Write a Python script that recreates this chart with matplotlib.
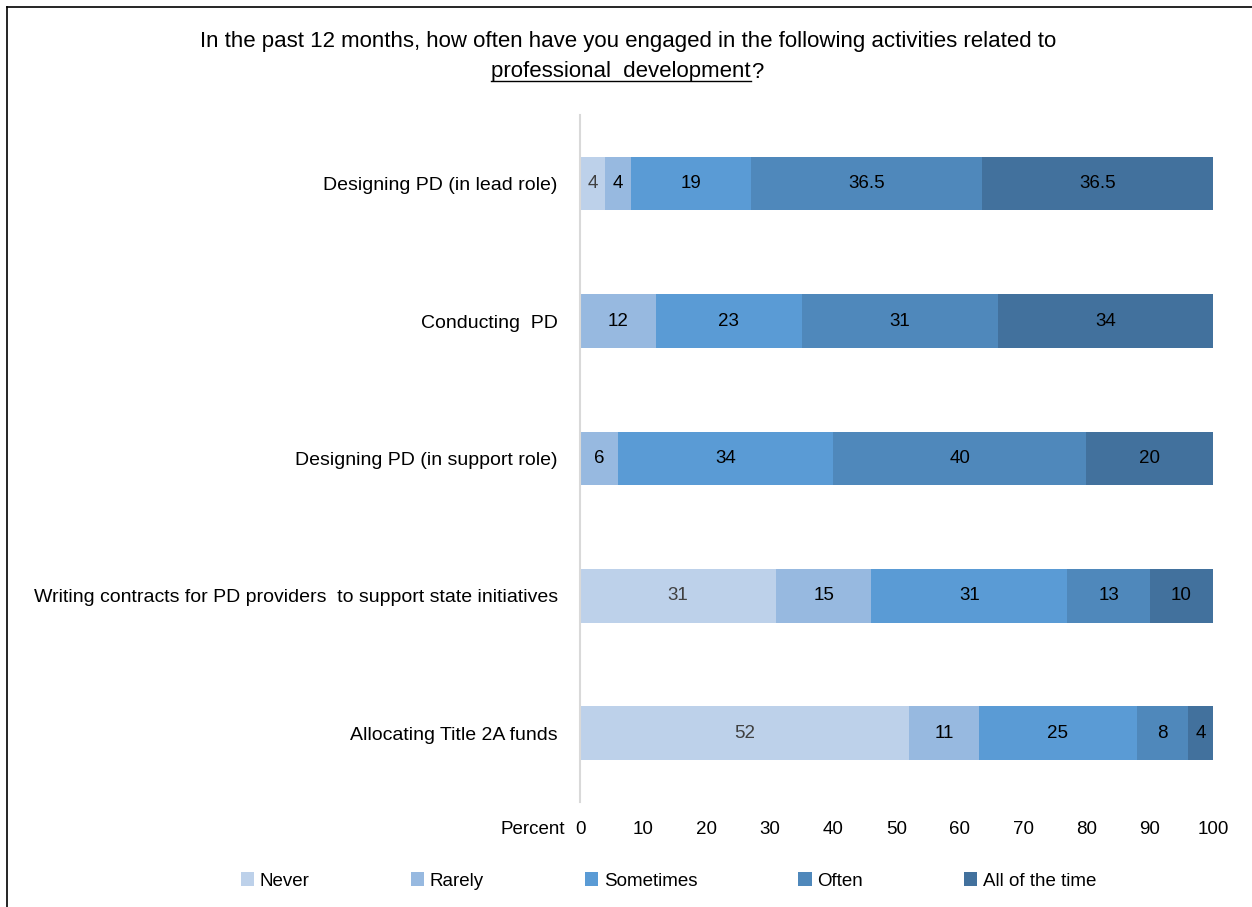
import matplotlib.pyplot as plt
import numpy as np
from matplotlib.lines import Line2D

plt.rcParams['font.family'] = ['Liberation Sans', 'DejaVu Sans']

activities = ['Designing PD (in lead role)', 'Conducting  PD', 'Designing PD (in support role)',
              'Writing contracts for PD providers  to support state initiatives', 'Allocating Title 2A funds']
levels = ['Never', 'Rarely', 'Sometimes', 'Often', 'All of the time']
never = [4, 0, 0, 31, 52]
rarely = [4, 12, 6, 15, 11]
sometimes = [19, 23, 34, 31, 25]
often = [36.5, 31, 40, 13, 8]
all_time = [36.5, 34, 20, 10, 4]
series = [never, rarely, sometimes, often, all_time]

colors = ['#BDD1EA', '#97B9E0', '#5A9BD5', '#4F88BB', '#42719D']
text_colors = ['#404040', 'black', 'black', 'black', 'black']

fig = plt.figure(figsize=(12.52, 9.07), dpi=100)
ax = fig.add_axes([0.4633, 0.1158, 0.5056, 0.7574])

y = np.arange(len(activities))
left = np.zeros(len(activities))
for vals, lab, c, tc in zip(series, levels, colors, text_colors):
    vals = np.array(vals, dtype=float)
    bars = ax.barh(y, vals, left=left, height=0.39, color=c, label=lab, edgecolor='none')
    for b, v in zip(bars, vals):
        if v > 0:
            ax.text(b.get_x() + b.get_width() / 2, b.get_y() + b.get_height() / 2,
                    f'{v:g}', ha='center', va='center', fontsize=13.5, color=tc)
    left += vals

ax.set_xlim(0, 100)
ax.set_ylim(len(activities) - 0.5, -0.5)
ax.set_yticks(y)
ax.set_yticklabels(activities, fontsize=14)
ax.set_xticks(range(0, 101, 10))
ax.tick_params(axis='x', length=0, labelsize=13.5, pad=14)
ax.tick_params(axis='y', length=0, pad=16)
for s in ['top', 'right', 'bottom']:
    ax.spines[s].set_visible(False)
ax.spines['left'].set_color('#D9D9D9')
ax.spines['left'].set_linewidth(1.5)

fig.text(565 / 1252, 1 - 829 / 907, 'Percent', ha='right', va='center', fontsize=13.5)

# title
fig.text(0.502, 1 - 42 / 907, 'In the past 12 months, how often have you engaged in the following activities related to',
         ha='center', va='center', fontsize=16)
t2 = fig.text(0.496, 1 - 72 / 907, 'professional  development', ha='center', va='center', fontsize=16)
fig.canvas.draw()
bb = t2.get_window_extent().transformed(fig.transFigure.inverted())
fig.text(bb.x1, 1 - 72 / 907, '?', ha='left', va='center', fontsize=16)
fig.add_artist(Line2D([bb.x0, bb.x1], [bb.y0 + 0.002, bb.y0 + 0.002], color='black', lw=1,
                      transform=fig.transFigure))

# border
fig.add_artist(Line2D([7 / 1252, 1], [1 - 7 / 907, 1 - 7 / 907], color='black', lw=1.2, transform=fig.transFigure))
fig.add_artist(Line2D([7 / 1252, 7 / 1252], [0, 1 - 7 / 907], color='black', lw=1.2, transform=fig.transFigure))

fig.legend(loc='center', bbox_to_anchor=(0.534, 1 - 881 / 907), ncol=5, frameon=False, fontsize=13.5,
           handlelength=0.7, handleheight=0.7, handletextpad=0.3, columnspacing=5.4)

fig.savefig('out.png', dpi=100)
